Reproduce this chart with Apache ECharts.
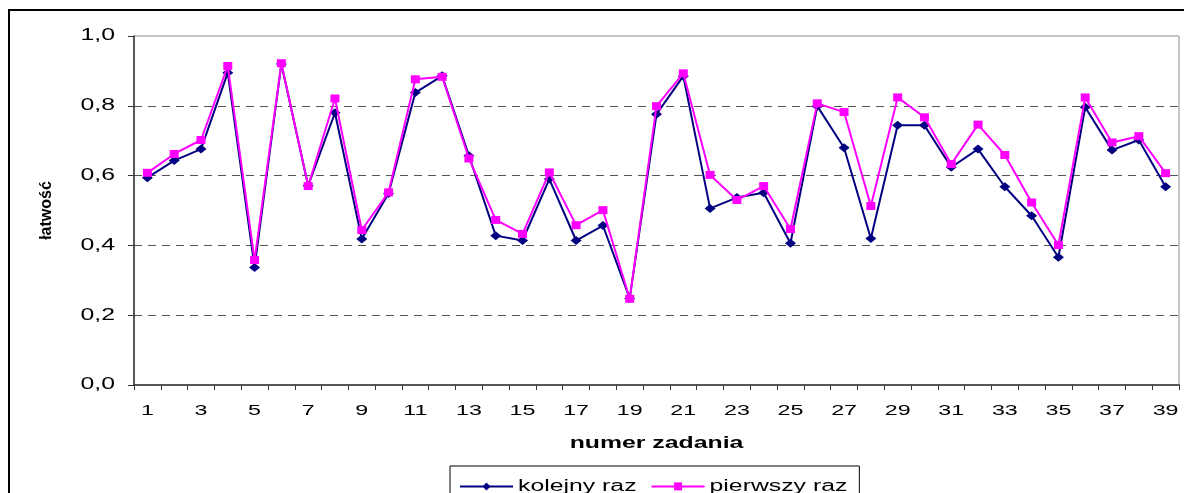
<!DOCTYPE html>
<html>
<head>
<meta charset="utf-8">
<script src="https://cdn.jsdelivr.net/npm/echarts@6/dist/echarts.min.js"></script>
<style>
  html, body { margin: 0; padding: 0; background: #fff; }
  #chart { width: 1184px; height: 493px; }
</style>
</head>
<body>
<div id="chart"></div>
<script>
// Task numbers 1..39
const tasks = [1,2,3,4,5,6,7,8,9,10,11,12,13,14,15,16,17,18,19,20,
               21,22,23,24,25,26,27,28,29,30,31,32,33,34,35,36,37,38,39];

// Item easiness for students taking the exam again
const kolejnyRaz = [0.594,0.643,0.676,0.895,0.337,0.920,0.571,0.780,0.418,0.549,
                    0.838,0.886,0.657,0.428,0.414,0.590,0.414,0.457,0.248,0.776,
                    0.885,0.506,0.537,0.551,0.406,0.799,0.680,0.420,0.744,0.744,
                    0.624,0.676,0.568,0.485,0.366,0.796,0.673,0.702,0.568];

// Item easiness for first-time students
const pierwszyRaz = [0.608,0.662,0.702,0.914,0.358,0.922,0.570,0.821,0.444,0.552,
                     0.876,0.883,0.649,0.473,0.433,0.609,0.458,0.501,0.247,0.799,
                     0.893,0.602,0.530,0.570,0.447,0.807,0.782,0.513,0.824,0.767,
                     0.633,0.746,0.659,0.523,0.401,0.824,0.695,0.713,0.607];

const yTicks = { min: 0, max: 1, interval: 0.2 };

const FONT = '"Liberation Sans", Arial, sans-serif';

// Horizontally widened lettering: layout measures text wider, and
// unrotated text is drawn stretched about its anchor point.
const STRETCH = 1.55;
const measureCtx = document.createElement('canvas').getContext('2d');
if (echarts.setPlatformAPI) {
  echarts.setPlatformAPI({
    measureText(text, font) {
      measureCtx.font = font || '12px sans-serif';
      return { width: measureCtx.measureText(text).width * STRETCH };
    }
  });
}
const nativeFillText = CanvasRenderingContext2D.prototype.fillText;
CanvasRenderingContext2D.prototype.fillText = function (text, x, y, maxWidth) {
  const m = this.getTransform();
  if (Math.abs(m.b) > 1e-6 || Math.abs(m.c) > 1e-6) {
    return maxWidth === undefined
      ? nativeFillText.call(this, text, x, y)
      : nativeFillText.call(this, text, x, y, maxWidth);
  }
  this.save();
  this.translate(x, y);
  this.scale(STRETCH, 1);
  nativeFillText.call(this, text, 0, 0);
  this.restore();
};

const chart = echarts.init(document.getElementById('chart'), null, { renderer: 'canvas' });

chart.setOption({
  animation: false,
  backgroundColor: '#fff',
  textStyle: { fontFamily: FONT, color: '#000' },
  graphic: [{
    type: 'rect',
    shape: { x: 9, y: 10, width: 1300, height: 700 },
    style: { fill: 'none', stroke: '#000', lineWidth: 2 },
    silent: true,
    z: 0
  }],
  grid: {
    left: 134, right: 5, top: 36, bottom: 108,
    show: true,
    backgroundColor: '#fff',
    borderColor: '#8c8c8c',
    borderWidth: 1
  },
  legend: {
    left: 450,
    top: 466,
    itemWidth: 53,
    itemHeight: 10,
    itemGap: 14,
    padding: [8, 12, 14, 9],
    borderColor: '#000',
    borderWidth: 1,
    backgroundColor: '#fff',
    textStyle: { fontFamily: FONT, fontSize: 16, color: '#000' },
    data: ['kolejny raz', 'pierwszy raz']
  },
  xAxis: {
    type: 'category',
    data: tasks,
    boundaryGap: true,
    name: 'numer zadania',
    nameLocation: 'middle',
    nameGap: 46,
    nameTextStyle: { fontFamily: FONT, fontSize: 16, fontWeight: 'bold', color: '#000' },
    axisLine: { show: true, lineStyle: { color: '#333', width: 1.5 } },
    axisTick: { show: true, interval: 0, length: 5, lineStyle: { color: '#333' } },
    axisLabel: { interval: 1, fontSize: 15, color: '#000', margin: 14, fontFamily: FONT },
    splitLine: { show: false }
  },
  yAxis: {
    type: 'value',
    min: yTicks.min,
    max: yTicks.max,
    interval: yTicks.interval,
    name: 'łatwość',
    nameLocation: 'middle',
    nameRotate: 90,
    nameGap: 75,
    nameTextStyle: { fontFamily: FONT, fontSize: 16, fontWeight: 'bold', color: '#000' },
    axisLine: { show: true, lineStyle: { color: '#333', width: 1.5 } },
    axisTick: { show: true, length: 6, lineStyle: { color: '#333' } },
    axisLabel: {
      fontSize: 16, color: '#000', margin: 19, fontFamily: FONT,
      formatter: v => v.toFixed(1).replace('.', ',')
    },
    splitLine: {
      show: true,
      showMinLine: false,
      showMaxLine: false,
      lineStyle: { color: '#555', type: [8, 6], width: 1.2 }
    }
  },
  series: [
    {
      name: 'kolejny raz',
      type: 'line',
      data: kolejnyRaz,
      symbol: 'diamond',
      symbolSize: [11, 9],
      showAllSymbol: true,
      lineStyle: { color: '#000080', width: 2 },
      itemStyle: { color: '#000080' },
      z: 3
    },
    {
      name: 'pierwszy raz',
      type: 'line',
      data: pierwszyRaz,
      symbol: 'rect',
      symbolSize: [9, 8],
      showAllSymbol: true,
      lineStyle: { color: '#ff00ff', width: 2 },
      itemStyle: { color: '#ff00ff' },
      z: 4
    }
  ]
});
</script>
</body>
</html>
